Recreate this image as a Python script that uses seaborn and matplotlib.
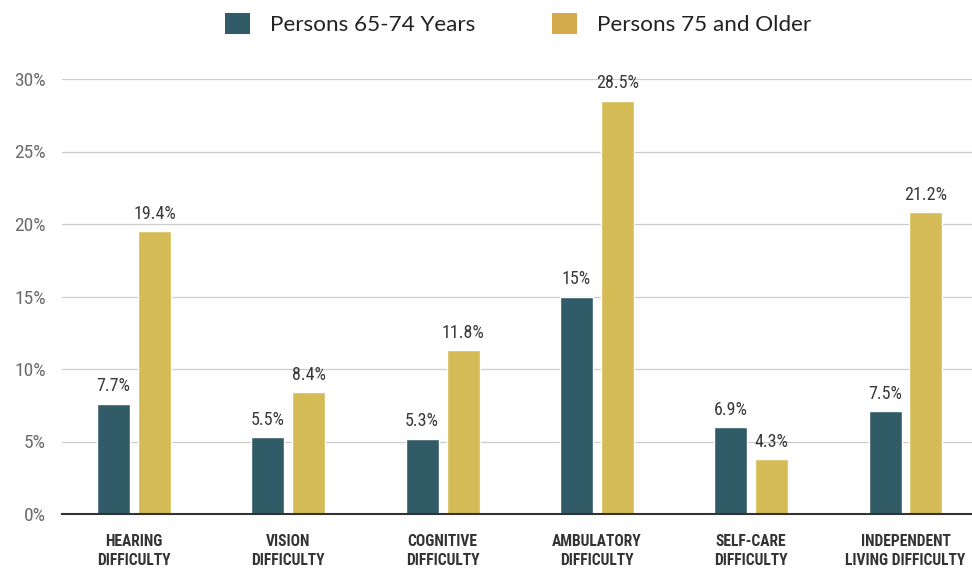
import matplotlib
matplotlib.use("Agg")
import matplotlib.pyplot as plt
from matplotlib.patches import Patch
from matplotlib import font_manager as fm
import seaborn as sns
import pandas as pd

categories = ["HEARING\nDIFFICULTY", "VISION\nDIFFICULTY", "COGNITIVE\nDIFFICULTY",
              "AMBULATORY\nDIFFICULTY", "SELF-CARE\nDIFFICULTY", "INDEPENDENT\nLIVING DIFFICULTY"]
series_names = ["Persons 65-74 Years", "Persons 75 and Older"]
values_65_74 = [7.6, 5.3, 5.2, 15.0, 6.0, 7.1]
values_75_up = [19.5, 8.4, 11.3, 28.5, 3.8, 20.8]
labels_65_74 = ["7.7%", "5.5%", "5.3%", "15%", "6.9%", "7.5%"]
labels_75_up = ["19.4%", "8.4%", "11.8%", "28.5%", "4.3%", "21.2%"]
y_ticks = [0, 5, 10, 15, 20, 25, 30]
y_tick_labels = ["0%", "5%", "10%", "15%", "20%", "25%", "30%"]

TEAL = "#305B67"
GOLD = "#D5BB55"
GOLD_LEG = "#D4AB4B"

# look for a condensed sans face; fall back to Roboto with smaller sizes
cond_names = [f.name for f in fm.fontManager.ttflist
              if "condensed" in str(f.stretch).lower() or "narrow" in f.name.lower()
              or "condensed" in f.name.lower()]
has_cond = ("Roboto Condensed" in cond_names) or ("Roboto" in cond_names)
NARROW = ["Roboto Condensed", "Roboto", "DejaVu Sans"]
STRETCH = "condensed" if has_cond else "normal"
if has_cond:
    sz_y, sz_val, sz_x = 14, 13, 11.2
else:
    sz_y, sz_val, sz_x = 12.5, 10.5, 10.2

df = pd.DataFrame({
    "category": categories * 2,
    "value": values_65_74 + values_75_up,
    "group": [series_names[0]] * len(categories) + [series_names[1]] * len(categories),
})

sns.set_style("white")
fig = plt.figure(figsize=(9.72, 5.69), dpi=100)
ax = fig.add_axes([62 / 972, 55 / 569, 910 / 972, 435 / 569])

sns.barplot(data=df, x="category", y="value", hue="group", order=categories,
            hue_order=series_names, palette=[TEAL, GOLD], width=0.531, gap=0.195,
            saturation=1, ax=ax, legend=False, errorbar=None)

for cont, labs in zip(ax.containers, [labels_65_74, labels_75_up]):
    ax.bar_label(cont, labels=labs, padding=6, fontsize=sz_val, color="#383838",
                 family=NARROW, fontstretch=STRETCH)

ax.set_xlim(-0.4666, 5.431)
ax.set_ylim(0, 30)
ax.set_yticks(y_ticks)
ax.set_yticklabels(y_tick_labels, family=NARROW, fontstretch=STRETCH, fontsize=sz_y,
                   color="#6b6b6b")
ax.set_xticks(range(len(categories)))
ax.set_xticklabels(categories, family=NARROW, fontstretch=STRETCH, fontsize=sz_x,
                   fontweight="bold", color="#333333", linespacing=1.3)
ax.tick_params(axis="both", length=0)
ax.tick_params(axis="x", pad=14.5)
ax.tick_params(axis="y", pad=11.5)
ax.set_xlabel("")
ax.set_ylabel("")

ax.yaxis.grid(True, color="#cccccc", linewidth=0.9)
ax.set_axisbelow(True)
for s in ["top", "right", "left"]:
    ax.spines[s].set_visible(False)
ax.spines["bottom"].set_color("#333333")
ax.spines["bottom"].set_linewidth(1.5)
ax.spines["bottom"].set_zorder(5)

handles = [Patch(facecolor=TEAL, edgecolor="none"), Patch(facecolor=GOLD_LEG, edgecolor="none")]
fig.legend(handles, series_names, loc="center", bbox_to_anchor=(0.533, 0.958), ncol=2,
           frameon=False, handlelength=1.1, handleheight=1.1, handletextpad=0.9,
           columnspacing=3.4, prop={"family": ["Lato", "DejaVu Sans"], "size": 16.2},
           labelcolor="#222222")

fig.savefig("out.png", dpi=100)
